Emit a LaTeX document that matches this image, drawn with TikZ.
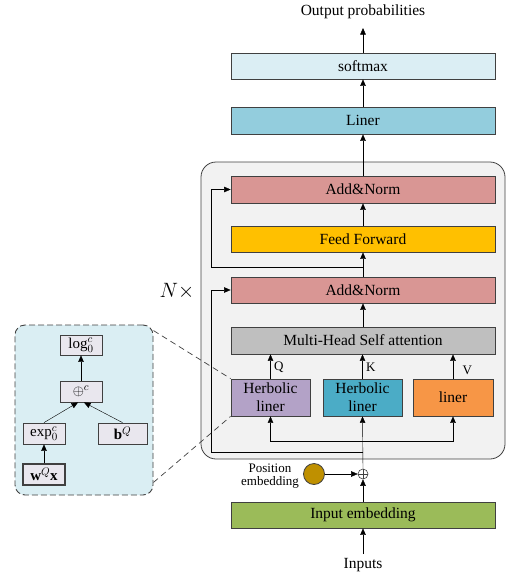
\documentclass[tikz,border=0pt]{standalone}
\usepackage{fontspec}
\setmainfont{Liberation Serif}
\usepackage{amsmath,amssymb}
\usetikzlibrary{arrows.meta}

\definecolor{normcol}{HTML}{D99694}
\definecolor{ffcol}{HTML}{FFC000}
\definecolor{attcol}{HTML}{BFBFBF}
\definecolor{hypcol}{HTML}{B3A2C7}
\definecolor{hypbcol}{HTML}{4BACC6}
\definecolor{lincol}{HTML}{F79646}
\definecolor{embcol}{HTML}{9BBB59}
\definecolor{linercol}{HTML}{93CDDD}
\definecolor{softcol}{HTML}{DBEEF4}
\definecolor{blockcol}{HTML}{F2F2F2}
\definecolor{poscol}{HTML}{BF9000}
\definecolor{zoomcol}{HTML}{DAEEF3}
\definecolor{opcol}{HTML}{E9E7EE}
\definecolor{edgecol}{HTML}{404040}

\begin{document}
\begin{tikzpicture}[x=1pt,y=-1pt,
  >={Triangle[length=6.5pt,width=5.5pt]},
  layer/.style={draw=edgecol,line width=0.8pt,minimum width=264pt,minimum height=26pt,inner sep=0pt,font=\fontsize{15.5}{17}\selectfont},
  proj/.style={draw=edgecol,line width=0.8pt,minimum width=79pt,minimum height=37pt,inner sep=0pt,align=center,font=\fontsize{15.5}{18}\selectfont},
  opbox/.style={draw=edgecol,line width=0.8pt,fill=opcol,minimum width=42pt,minimum height=21pt,inner sep=0pt,font=\fontsize{15}{16}\selectfont},
  lbl/.style={font=\fontsize{15.5}{17}\selectfont},
  tag/.style={font=\fontsize{13}{15}\selectfont},
  zoomline/.style={edgecol,line width=0.7pt,dash pattern=on 6pt off 4pt}]
\useasboundingbox (0,0) rectangle (506,576);

% encoder block
\draw[edgecol,line width=0.8pt,fill=blockcol,rounded corners=15pt] (201,162) rectangle (505,459);
\node[font=\fontsize{22}{24}\selectfont] (nx) at (177,291) {$N\times$};

\node[layer,fill=softcol] (softmax) at (363,66) {softmax};
\node[layer,fill=linercol,minimum height=27pt] (liner) at (363,120.5) {Liner};
\node[layer,fill=normcol,minimum height=27pt] (norma) at (363,189.5) {Add\&Norm};
\node[layer,fill=ffcol] (ff) at (363,239) {Feed Forward};
\node[layer,fill=normcol] (normb) at (363,290) {Add\&Norm};
\node[layer,fill=attcol,minimum height=27pt] (mhsa) at (363,340.5) {Multi-Head Self attention};

\node[proj,fill=hypcol] (hypq) at (270.5,397.5) {Herbolic\\liner};
\node[proj,fill=hypbcol] (hypk) at (362.5,397.5) {Herbolic\\liner};
\node[proj,fill=lincol,minimum width=80pt] (linv) at (453,397.5) {liner};

\node[layer,fill=embcol] (inemb) at (363,515) {Input embedding};
\node[lbl] (outp) at (363,12) {Output probabilities};
\node[lbl,inner sep=4pt] (inp) at (363,565) {Inputs};
\coordinate (outtip) at (363,28);

\node[circle,draw=edgecol,line width=0.8pt,fill=poscol,minimum size=21pt,inner sep=0pt] (pos) at (314,474) {};
\node[tag,align=center] (poslbl) at (270,476) {Position\\[-2pt]embedding};
\node[circle,draw=edgecol,line width=0.6pt,fill=white,minimum size=10pt,inner sep=0pt] (add) at (363,474) {};
\draw[edgecol,line width=0.6pt] (add.north) -- (add.south) (add.west) -- (add.east);

% main flow
\draw[->] (inp.north) -- (inemb.south);
\draw[->] (inemb.north) -- (add.south);
\draw[->] (pos.east) -- (add.west);
\draw[->] (add.north) -- (hypk.south);
\coordinate (split) at (363,441);
\draw[->] (split) -| (hypq.south);
\draw[->] (split) -| (linv.south);
\coordinate (resa) at (363,452);
\draw[->] (resa) -| ([xshift=-19pt]normb.west) -- (normb.west);

\draw[->] (hypq.north) -- (hypq.north |- mhsa.south) node[pos=0.45,right,tag] {Q};
\draw[->] (hypk.north) -- (hypk.north |- mhsa.south) node[pos=0.45,right,tag] {K};
\draw[->] (linv.north) -- (linv.north |- mhsa.south) node[pos=0.35,right,xshift=6pt,tag] {V};

\draw[->] (mhsa.north) -- (normb.south);
\draw[->] (normb.north) -- (ff.south);
\coordinate (resb) at (363,267);
\draw[->] (resb) -| ([xshift=-19pt]norma.west) -- (norma.west);
\draw[->] (ff.north) -- (norma.south);
\draw[->] (norma.north) -- (liner.south);
\draw[->] (liner.north) -- (softmax.south);
\draw[->] (softmax.north) -- (outtip);

% hyperbolic liner detail
\node[draw=edgecol,line width=0.9pt,dash pattern=on 6pt off 3pt,fill=zoomcol,rounded corners=10pt,minimum width=138pt,minimum height=170pt,inner sep=0pt] (zoom) at (84,410) {};
\draw[zoomline] ([yshift=-6pt]zoom.north east) -- (hypq.north west);
\draw[zoomline] ([yshift=13pt]zoom.south east) -- (hypq.south west);

\node[opbox,minimum height=20pt] (logb) at (81,345) {$\log_0^c$};
\node[opbox] (oplusb) at (81,391.5) {$\oplus^c$};
\node[opbox] (expb) at (44,433.5) {$\exp_0^c$};
\node[opbox,minimum width=49pt] (bb) at (122.5,433.5) {$\mathbf{b}^Q$};
\node[opbox,line width=1.4pt] (wxb) at (44,474.5) {$\mathbf{w}^Q\mathbf{x}$};

\draw[->] (wxb.north) -- (expb.south);
\draw[->] (expb.north) -- ([xshift=-3pt]oplusb.south);
\draw[->] (bb.north) -- ([xshift=3pt]oplusb.south);
\draw[->] (oplusb.north) -- (logb.south);

\end{tikzpicture}
\end{document}
